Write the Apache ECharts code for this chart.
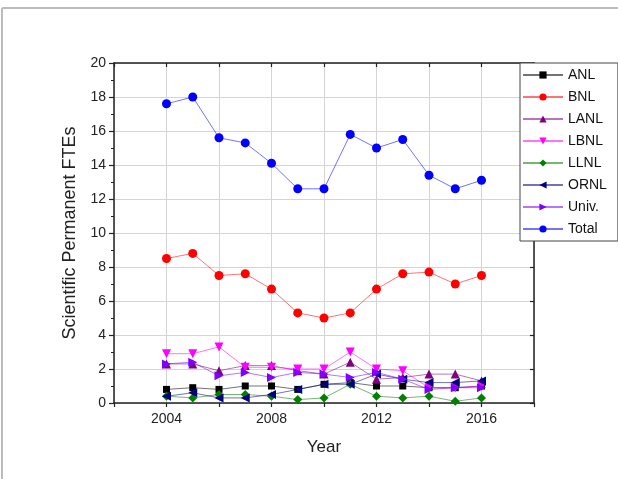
<!DOCTYPE html>
<html>
<head>
<meta charset="utf-8">
<script src="https://cdn.jsdelivr.net/npm/echarts@6/dist/echarts.min.js"></script>
<style>
  html, body { margin: 0; padding: 0; background: #fff; }
  #chart { width: 618px; height: 479px; }
</style>
</head>
<body>
<div id="chart"></div>
<script>
// Scientific permanent FTEs by institution, 2004-2016
const years = [2004, 2005, 2006, 2007, 2008, 2009, 2010, 2011, 2012, 2013, 2014, 2015, 2016];
const anl   = [0.8, 0.9, 0.8, 1.0, 1.0, 0.8, 1.1, 1.2, 1.0, 1.0, 0.9, 0.9, 1.0];
const bnl   = [8.5, 8.8, 7.5, 7.6, 6.7, 5.3, 5.0, 5.3, 6.7, 7.6, 7.7, 7.0, 7.5];
const lanl  = [2.3, 2.3, 1.9, 2.2, 2.2, 1.9, 1.7, 2.4, 1.4, 1.5, 1.7, 1.7, 1.3];
const lbnl  = [2.9, 2.9, 3.3, 2.1, 2.1, 2.0, 2.0, 3.0, 2.0, 1.9, 0.9, 0.9, 1.0];
const llnl  = [0.4, 0.3, 0.5, 0.5, 0.4, 0.2, 0.3, 1.1, 0.4, 0.3, 0.4, 0.1, 0.3];
const ornl  = [0.4, 0.6, 0.3, 0.3, 0.5, 0.8, 1.1, 1.1, 1.7, 1.4, 1.2, 1.2, 1.3];
const univ  = [2.3, 2.4, 1.6, 1.8, 1.5, 1.8, 1.7, 1.5, 1.8, 1.4, 0.8, 0.9, 0.9];
const total = [17.6, 18.0, 15.6, 15.3, 14.1, 12.6, 12.6, 15.8, 15.0, 15.5, 13.4, 12.6, 13.1];

const yTicks = [0, 2, 4, 6, 8, 10, 12, 14, 16, 18, 20];
const xLabels = [2004, 2008, 2012, 2016];

const seriesDefs = [
  { name: 'ANL',   data: anl,   color: '#000000', symbol: 'rect',     size: 7, rotate: 0 },
  { name: 'BNL',   data: bnl,   color: '#ff0000', symbol: 'circle',   size: 9, rotate: 0 },
  { name: 'LANL',  data: lanl,  color: '#800080', symbol: 'triangle', size: 9, rotate: 0 },
  { name: 'LBNL',  data: lbnl,  color: '#ff00ff', symbol: 'triangle', size: 9, rotate: 180 },
  { name: 'LLNL',  data: llnl,  color: '#008000', symbol: 'diamond',  size: 9, rotate: 0 },
  { name: 'ORNL',  data: ornl,  color: '#000080', symbol: 'triangle', size: 9, rotate: 90 },
  { name: 'Univ.', data: univ,  color: '#8000ff', symbol: 'triangle', size: 9, rotate: -90 },
  { name: 'Total', data: total, color: '#0000ff', symbol: 'circle',   size: 9, rotate: 0 }
];

const FONT = 'Liberation Sans, Arial, sans-serif';
const gridLine = { show: true, lineStyle: { color: '#d4d4d4', width: 1 } };
const frameLine = { show: true, onZero: false, lineStyle: { color: '#222', width: 1.5 } };

const chart = echarts.init(document.getElementById('chart'), null, { renderer: 'canvas' });

chart.setOption({
  backgroundColor: '#fff',
  animation: false,
  graphic: [
    { type: 'line', shape: { x1: 2, y1: 8, x2: 618, y2: 8 }, style: { stroke: '#bcbcbc', lineWidth: 2 }, z: 0 },
    { type: 'line', shape: { x1: 2, y1: 8, x2: 2, y2: 479 }, style: { stroke: '#bcbcbc', lineWidth: 2 }, z: 0 }
  ],
  grid: { left: 114, top: 63, right: 84, bottom: 76, containLabel: false },
  legend: {
    orient: 'vertical',
    left: 520,
    top: 63,
    padding: [5, 11, 5, 2],
    itemGap: 8,
    itemWidth: 40,
    itemHeight: 9,
    backgroundColor: '#fff',
    borderColor: '#444',
    borderWidth: 1,
    borderRadius: 0,
    textStyle: { fontFamily: FONT, fontSize: 14, color: '#111', padding: [0, 0, 0, 0] },
    data: seriesDefs.map(s => s.name),
    z: 10
  },
  xAxis: [
    {
      type: 'value', min: 2002, max: 2018, interval: 2, position: 'bottom',
      name: 'Year', nameLocation: 'middle', nameGap: 36,
      nameTextStyle: { fontFamily: FONT, fontSize: 17, color: '#222' },
      axisLine: frameLine,
      axisTick: { show: true, inside: false, length: 4, lineStyle: { color: '#222', width: 1.2 } },
      axisLabel: {
        fontFamily: FONT, fontSize: 14, color: '#222', margin: 9,
        formatter: v => xLabels.indexOf(v) >= 0 ? String(v) : ''
      },
      splitLine: gridLine
    },
    {
      type: 'value', min: 2002, max: 2018, interval: 2, position: 'top',
      axisLine: frameLine,
      axisTick: { show: true, inside: true, length: 4, lineStyle: { color: '#222', width: 1.2 } },
      axisLabel: { show: false },
      splitLine: { show: false }
    }
  ],
  yAxis: [
    {
      type: 'value', min: 0, max: 20, interval: 2, position: 'left',
      name: 'Scientific Permanent FTEs', nameLocation: 'middle', nameGap: 30, nameRotate: 90,
      nameTextStyle: { fontFamily: FONT, fontSize: 18, color: '#222' },
      axisLine: frameLine,
      axisTick: { show: true, inside: false, length: 5, lineStyle: { color: '#222', width: 1.2 } },
      minorTick: { show: true, splitNumber: 2, length: 3, lineStyle: { color: '#222', width: 1 } },
      axisLabel: {
        fontFamily: FONT, fontSize: 14, color: '#222', margin: 8,
        formatter: v => yTicks.indexOf(v) >= 0 ? String(v) : ''
      },
      splitLine: gridLine
    },
    {
      type: 'value', min: 0, max: 20, interval: 2, position: 'right',
      axisLine: frameLine,
      axisTick: { show: true, inside: true, length: 4, lineStyle: { color: '#222', width: 1.2 } },
      axisLabel: { show: false },
      splitLine: { show: false }
    }
  ],
  series: seriesDefs.map(s => ({
    name: s.name,
    type: 'line',
    xAxisIndex: 0,
    yAxisIndex: 0,
    data: years.map((y, i) => [y, s.data[i]]),
    symbol: s.symbol,
    symbolSize: s.size,
    symbolRotate: s.rotate,
    showAllSymbol: true,
    color: s.color,
    itemStyle: { color: s.color, opacity: 1 },
    lineStyle: { color: s.color, width: 1, opacity: 0.55 },
    emphasis: { disabled: true }
  }))
});
</script>
</body>
</html>
